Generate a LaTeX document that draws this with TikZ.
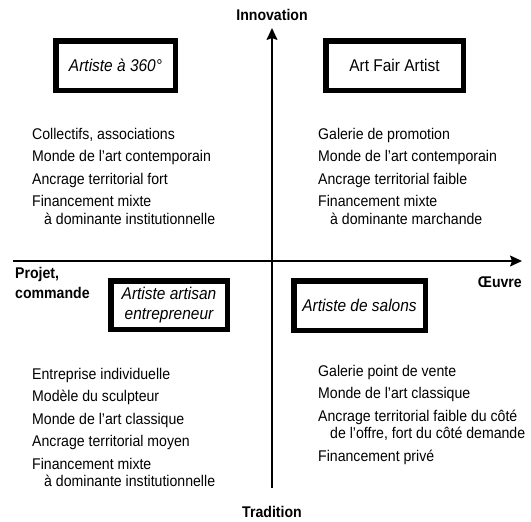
\documentclass[tikz,border=0pt]{standalone}
\usepackage{fontspec}
\setmainfont[FakeStretch=0.91]{Liberation Sans}
\usetikzlibrary{arrows.meta}

\tikzset{
  quadbox/.style={draw, line width=5.5pt, inner sep=0pt, align=center,
    font=\fontsize{17}{20}\selectfont\itshape},
  traits/.style={anchor=north west, inner sep=0pt, align=left,
    font=\fontsize{15.5}{17.5}\selectfont},
  axelabel/.style={inner sep=0pt, align=left,
    font=\fontsize{15.5}{20.5}\selectfont\bfseries},
}

\begin{document}
\begin{tikzpicture}[x=1pt, y=-1pt, >={Stealth[length=12pt,width=11pt,inset=2pt]}]
\useasboundingbox (0,0) rectangle (531,522);

% axes
\coordinate (haut) at (272,28);
\coordinate (bas) at (272,488);
\coordinate (gauche) at (13,261);
\coordinate (droite) at (522,261);
\draw [->, line width=1.6pt](bas)--(haut);
\draw [->, line width=1.6pt](gauche)--(droite);

\node [axelabel] (innov) at (272,15){Innovation};
\node [axelabel] (trad) at (272,512){Tradition};
\node [axelabel, anchor=east] (oeuvre) at (522,282){Œuvre};
\node [axelabel, anchor=north west] (projet) at (15,267){Projet,\\commande};

% les quatre profils
\node [quadbox, minimum width=119.5pt, minimum height=49.5pt] (a360) at (115.5,65.5){Artiste à 360°};
\node [quadbox, minimum width=137.5pt, minimum height=49.5pt, font=\fontsize{17}{20}\selectfont] (fair) at (394.5,65.5){Art Fair Artist};
\node [quadbox, minimum width=116.5pt, minimum height=48.5pt] (artisan) at (169,305){Artiste artisan\\entrepreneur};
\node [quadbox, minimum width=131.5pt, minimum height=49.5pt] (salons) at (359.5,305.5){Artiste de salons};

\node [traits] (tl) at (32,128){Collectifs, associations\\[5pt]
  Monde de l'art contemporain\\[5pt]
  Ancrage territorial fort\\[5pt]
  Financement mixte\\
  \hspace*{12pt}à dominante institutionnelle};
\node [traits] (tr) at (318,128){Galerie de promotion\\[5pt]
  Monde de l'art contemporain\\[5pt]
  Ancrage territorial faible\\[5pt]
  Financement mixte\\
  \hspace*{12pt}à dominante marchande};
\node [traits] (bl) at (32,368){Entreprise individuelle\\[5pt]
  Modèle du sculpteur\\[5pt]
  Monde de l'art classique\\[5pt]
  Ancrage territorial moyen\\[5pt]
  Financement mixte\\
  \hspace*{12pt}à dominante institutionnelle};
\node [traits] (br) at (318,365){Galerie point de vente\\[5pt]
  Monde de l'art classique\\[5pt]
  Ancrage territorial faible du côté\\
  \hspace*{12pt}de l'offre, fort du côté demande\\[5pt]
  Financement privé};
\end{tikzpicture}
\end{document}
